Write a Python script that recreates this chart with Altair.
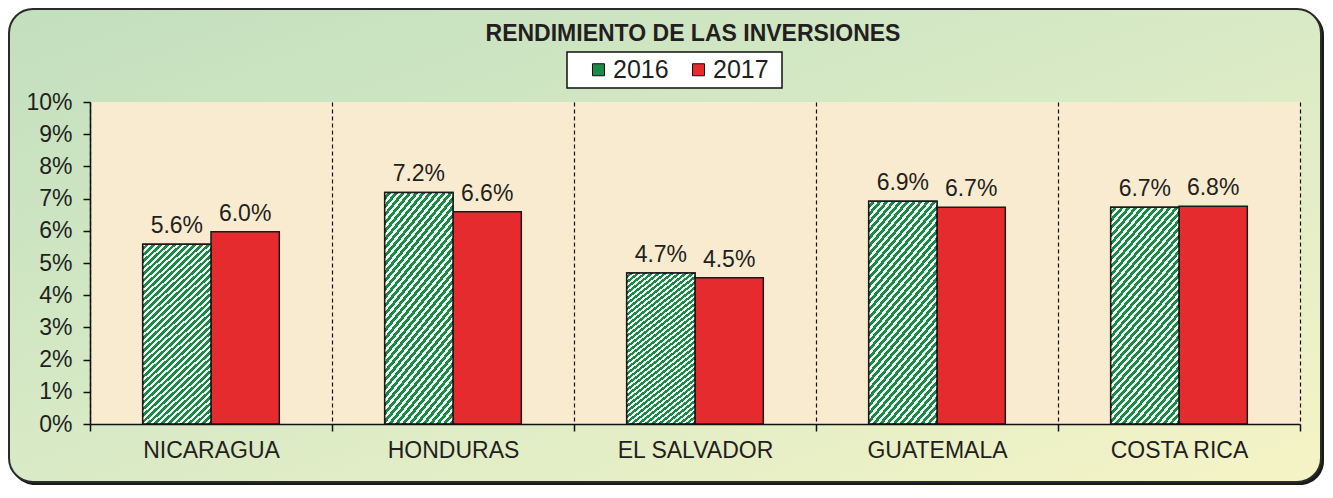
import altair as alt
import pandas as pd

# ---------------- data ----------------
countries = ["NICARAGUA", "HONDURAS", "EL SALVADOR", "GUATEMALA", "COSTA RICA"]
years = ["2016", "2017"]
values_2016 = [0.0558, 0.0719, 0.0469, 0.0692, 0.0673]
values_2017 = [0.0597, 0.0659, 0.0454, 0.0673, 0.0676]
y_ticks = [0.00, 0.01, 0.02, 0.03, 0.04, 0.05, 0.06, 0.07, 0.08, 0.09, 0.10]
title_text = "RENDIMIENTO DE LAS INVERSIONES"

rows = []
for c, a, b in zip(countries, values_2016, values_2017):
    rows.append({"pais": c, "anio": years[0], "valor": a})
    rows.append({"pais": c, "anio": years[1], "valor": b})
df = pd.DataFrame(rows)

# ---------------- style ----------------
FONT = "Liberation Sans"
TXT = "#231F20"
W, H = 1210, 322
PAD = {"left": 82, "top": 94, "right": 25, "bottom": 62}

# diagonal hatch (white stripes over green) as a gradient
r = 2.8
s = (1 + r) / (1 + r * r)
N = 38
stops = []
for i in range(N):
    a0 = i / N
    a1 = (i + 0.45) / N
    a2 = (i + 1) / N
    stops += [
        {"offset": a0, "color": "rgba(255,255,255,0.95)"},
        {"offset": a1, "color": "rgba(255,255,255,0.95)"},
        {"offset": a1, "color": "rgba(255,255,255,0)"},
        {"offset": a2, "color": "rgba(255,255,255,0)"},
    ]
hatch = {"gradient": "linear", "x1": 0, "y1": 0, "x2": s, "y2": s * r, "stops": stops}

box_grad = {
    "gradient": "linear", "x1": 0, "y1": 0, "x2": 1, "y2": 1,
    "stops": [
        {"offset": 0, "color": "#C2DFBE"},
        {"offset": 0.5, "color": "#D9EAC6"},
        {"offset": 1, "color": "#F5F4C6"},
    ],
}

empty = pd.DataFrame({"k": [0]})

shadow = alt.Chart(empty).mark_rect(cornerRadius=24, color="#1a1a1a").encode(
    x=alt.value(-79), x2=alt.value(W + PAD["right"] - 1),
    y=alt.value(-91), y2=alt.value(H + PAD["bottom"] - 1),
)
box = alt.Chart(empty).mark_rect(cornerRadius=24, fill=box_grad, stroke="#2a2a2a", strokeWidth=2).encode(
    x=alt.value(-81), x2=alt.value(W + PAD["right"] - 4),
    y=alt.value(-93), y2=alt.value(H + PAD["bottom"] - 4),
)
plot_bg = alt.Chart(empty).mark_rect(fill="#F9EBCF").encode(
    x=alt.value(0), x2=alt.value(W), y=alt.value(0), y2=alt.value(H),
)
legend_box = alt.Chart(empty).mark_rect(fill="white", stroke="#111", strokeWidth=1.5).encode(
    x=alt.value(477), x2=alt.value(692), y=alt.value(-50), y2=alt.value(-14),
)
title = alt.Chart(empty).mark_text(
    font=FONT, fontSize=23, fontWeight="bold", color=TXT, align="center", baseline="alphabetic"
).encode(x=alt.value(W / 2 - 2), y=alt.value(-61), text=alt.value(title_text))

x = alt.X(
    "pais:N", sort=countries,
    scale=alt.Scale(paddingInner=0, paddingOuter=0),
    axis=alt.Axis(
        title=None, labelAngle=0, tickBand="extent", grid=True, gridDash=[4, 3],
        gridColor="#111", gridWidth=1.2, domainColor="#111", domainWidth=1.5,
        tickColor="#111", tickWidth=1.5, tickSize=7, labelFontSize=23, labelFont=FONT,
        labelColor=TXT, labelPadding=8, zindex=1,
    ),
)
xo = alt.XOffset("anio:N", sort=years, scale=alt.Scale(paddingInner=0, paddingOuter=0.7716))
y = alt.Y(
    "valor:Q", stack=None,
    scale=alt.Scale(domain=[0, 0.1], nice=False),
    axis=alt.Axis(
        title=None, values=y_ticks, format=".0%", grid=False, domainColor="#111",
        domainWidth=1.5, tickColor="#111", tickWidth=1.5, tickSize=7, labelFontSize=23,
        labelFont=FONT, labelColor=TXT, labelPadding=11, zindex=1,
    ),
)

bars = alt.Chart(df).mark_bar(stroke="#1a1a1a", strokeWidth=1.5).encode(
    x=x, xOffset=xo, y=y,
    color=alt.Color(
        "anio:N",
        scale=alt.Scale(domain=years, range=["#1B8A47", "#E62B2E"]),
        legend=alt.Legend(
            title=None, orient="none", legendX=496, legendY=-45, direction="horizontal",
            symbolType="square", symbolSize=144, symbolStrokeColor="#111",
            symbolStrokeWidth=1, symbolOpacity=1, labelFontSize=25, labelFont=FONT,
            labelColor=TXT, labelOffset=2, columnPadding=17, padding=0, zindex=1,
        ),
    ),
)
hatch_layer = alt.Chart(df).transform_filter(
    alt.datum.anio == years[0]
).mark_bar(fill=hatch, stroke="#1a1a1a", strokeWidth=1.5).encode(x=x, xOffset=xo, y=y)

labels = alt.Chart(df).mark_text(
    font=FONT, fontSize=23, color=TXT, baseline="alphabetic", dy=-11
).encode(x=x, xOffset=xo, y=y, text=alt.Text("valor:Q", format=".1%"))

chart = alt.layer(
    shadow, box, plot_bg, legend_box, title, bars, hatch_layer, labels
).properties(
    width=W, height=H, padding=PAD, autosize=alt.AutoSizeParams(type="none"),
    background="white",
).configure_view(stroke=None)

chart.save("out.html", embed_options={"renderer": "svg", "actions": False})
